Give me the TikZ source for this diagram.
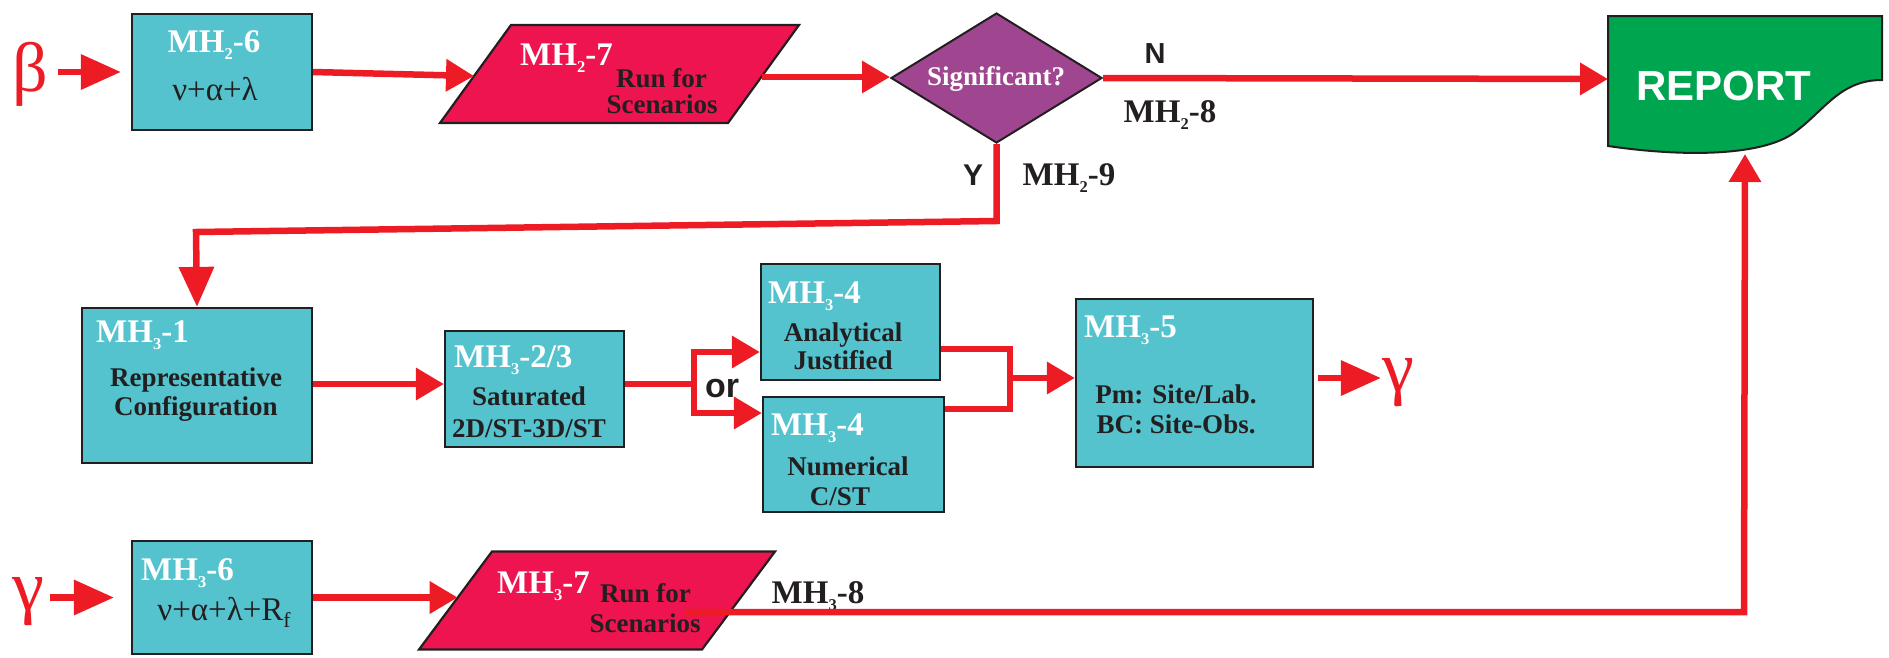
\documentclass[tikz,border=0pt]{standalone}
\usepackage{fontspec}
\usepackage{graphicx}
\setmainfont{Liberation Serif}
\newfontfamily\arialf{Liberation Sans}
\usetikzlibrary{shapes.geometric,arrows.meta}
\newcommand\fs[1]{\fontsize{#1}{#1}\selectfont}
\newcommand\lsub[2][0.5]{\raisebox{-0.22em}{\scalebox{#1}{#2}}}
\definecolor{cyanb}{RGB}{84,195,205}
\definecolor{crim}{RGB}{237,20,80}
\definecolor{purp}{RGB}{160,69,143}
\definecolor{grn}{RGB}{0,165,80}
\definecolor{redl}{RGB}{237,28,36}
\definecolor{bord}{RGB}{35,31,32}
\begin{document}
\begin{tikzpicture}[x=1pt,y=-1pt,
  box/.style={rectangle,draw=bord,line width=2.2pt,fill=cyanb,inner sep=0pt},
  para/.style={draw=bord,line width=2.2pt,fill=crim,line join=miter},
  ttl/.style={text=white,font=\fs{33}\bfseries,inner sep=0pt,anchor=base west},
  lbl/.style={text=bord,font=\fs{33}\bfseries,inner sep=0pt,anchor=base},
  txt/.style={text=bord,font=\fs{27}\bfseries,inner sep=0pt,anchor=base},
  sl/.style={text=bord,font=\arialf\bfseries\fs{#1},inner sep=0pt,anchor=base},
  greek/.style={text=redl,font=\fs{72},inner sep=0pt,anchor=base},
  ln/.style={draw=redl,line width=6.5pt},
  arr/.style={ln,-{Triangle[length=28pt,width=31pt]}},
  bigarr/.style={ln,-{Triangle[length=40pt,width=34pt]}}]
\useasboundingbox (0,0) rectangle (1889,657);
% ---------- row 1 ----------
\node[greek,font=\fs{70}] (beta) at (30,91) {β};
\node[box,minimum width=180pt,minimum height=116pt] (mh26) at (222,72) {};
\node[ttl,anchor=base] (t26) at (214,52) {MH\lsub{2}-6};
\node[lbl,font=\fs{33}] (n26) at (215,100) {ν+α+λ};
\path[para] (440,123) -- (511,25) -- (799,25) -- (728,123) -- cycle;
\coordinate (p27L) at (474,76);
\coordinate (p27R) at (762,77);
\node[ttl] (t27) at (520,65) {MH\lsub{2}-7};
\node[txt,anchor=base west] (r27) at (616,87) {Run for};
\node[txt] (s27) at (662,113) {Scenarios};
\node[diamond,draw=bord,line width=2pt,fill=purp,minimum width=211pt,minimum height=130pt,inner sep=0pt] (dia) at (996.5,78) {};
\node[txt,text=white] (sig) at (996,85) {Significant?};
\node[sl=29] (nN) at (1155,63) {N};
\node[lbl] (mh28) at (1170,122) {MH\lsub{2}-8};
\node[sl=30] (nY) at (973,185) {Y};
\node[lbl] (mh29) at (1069,185) {MH\lsub{2}-9};
\path[draw=bord,line width=2pt,fill=grn] (1608,16) -- (1882,16) -- (1882,80)
   .. controls (1840,80) and (1825,110) .. (1795,132)
   .. controls (1765,155) and (1690,158) .. (1608,146) -- cycle;
\node[sl=42,text=white] (rep) at (1724,100) {REPORT};
\coordinate (repL) at (1608,79);
\coordinate (repB) at (1745,154);
% ---------- row 2 ----------
\node[box,minimum width=230pt,minimum height=155pt] (mh31) at (197,385.5) {};
\node[ttl] (t31) at (96,342) {MH\lsub{3}-1};
\node[txt] (a31) at (196,386) {Representative};
\node[txt] (b31) at (196,415) {Configuration};
\node[box,minimum width=179pt,minimum height=116pt] (mh23) at (534.5,389) {};
\node[ttl] (t23) at (454,367) {MH\lsub{3}-2/3};
\node[txt] (a23) at (529,405) {Saturated};
\node[txt] (b23) at (529,437) {2D/ST-3D/ST};
\node[sl=34] (or) at (722,397) {or};
\node[box,minimum width=179pt,minimum height=116pt] (mh34a) at (850.5,322) {};
\node[ttl] (t34a) at (768,303) {MH\lsub{3}-4};
\node[txt] (a34a) at (843,341) {Analytical};
\node[txt] (b34a) at (843,369) {Justified};
\node[box,minimum width=181pt,minimum height=115pt] (mh34b) at (853.5,454.5) {};
\node[ttl] (t34b) at (771,435) {MH\lsub{3}-4};
\node[txt] (a34b) at (848,475) {Numerical};
\node[txt] (b34b) at (840,505) {C/ST};
\node[box,minimum width=237pt,minimum height=168pt] (mh35) at (1194.5,383) {};
\node[ttl] (t35) at (1084,337) {MH\lsub{3}-5};
\node[txt] (a35) at (1176,403) {Pm: Site/Lab.};
\node[txt] (b35) at (1176,433) {BC: Site-Obs.};
\node[greek] (gam2) at (1398,391) {γ};
% ---------- row 3 ----------
\node[greek] (gam1) at (28,610) {γ};
\node[box,minimum width=180pt,minimum height=113pt] (mh36) at (222,597.5) {};
\node[ttl] (t36) at (141,580) {MH\lsub{3}-6};
\node[lbl,font=\fs{33}] (n36) at (224,620) {ν+α+λ+R\lsub[0.65]{f}};
\path[para] (419,649.5) -- (492,551.5) -- (775,551.5) -- (702,649.5) -- cycle;
\coordinate (p37L) at (457.7,597.5);
\node[ttl] (t37) at (497,593) {MH\lsub{3}-7};
\node[txt,anchor=base west] (r37) at (600,602) {Run for};
\node[txt] (s37) at (645,632) {Scenarios};
\node[lbl] (mh38) at (818,603) {MH\lsub{3}-8};
% ---------- junction coordinates ----------
\coordinate (yc1) at (996.5,221);
\coordinate (yc2) at (196,232);
\coordinate (j1) at (694,384);
\coordinate (j1t) at (694,352);
\coordinate (j1b) at (694,413);
\coordinate (j2) at (1010,378);
\coordinate (j2t) at (1010,349);
\coordinate (j2b) at (1010,409);
\coordinate (c37) at (685,612);
\coordinate (c38) at (1744,612);
% ---------- connectors ----------
\draw[bigarr,shorten >=10pt] ([xshift=10pt]beta.east |- mh26.west) -- (mh26.west);
\draw[arr] (mh26.east) -- (p27L);
\draw[arr] (p27R) -- (p27R -| dia.west);
\draw[arr] (dia.east) -- (repL);
\draw[bigarr] (dia.south) -- (yc1) -- (yc2) -- (mh31.north);
\draw[arr] (mh31.east |- j1) -- (j1 -| mh23.west);
\draw[ln] (mh23.east |- j1) -- (j1);
\draw[arr] (j1) |- (mh34a.west |- j1t);
\draw[arr] (j1) |- (mh34b.west |- j1b);
\draw[ln] (mh34a.east |- j2t) -- (j2t) -- (j2b) -- (mh34b.east |- j2b);
\draw[arr] (j2) -- (j2 -| mh35.west);
\draw[bigarr,shorten <=4pt] (mh35.east |- j2) -- ([xshift=-1pt]gam2.west |- j2);
\draw[bigarr,shorten >=17pt] ([xshift=6pt]gam1.east |- mh36.west) -- (mh36.west);
\draw[arr] (mh36.east) -- (p37L);
\draw[arr] (c37) -- (c38) -- (repB);
\end{tikzpicture}
\end{document}
